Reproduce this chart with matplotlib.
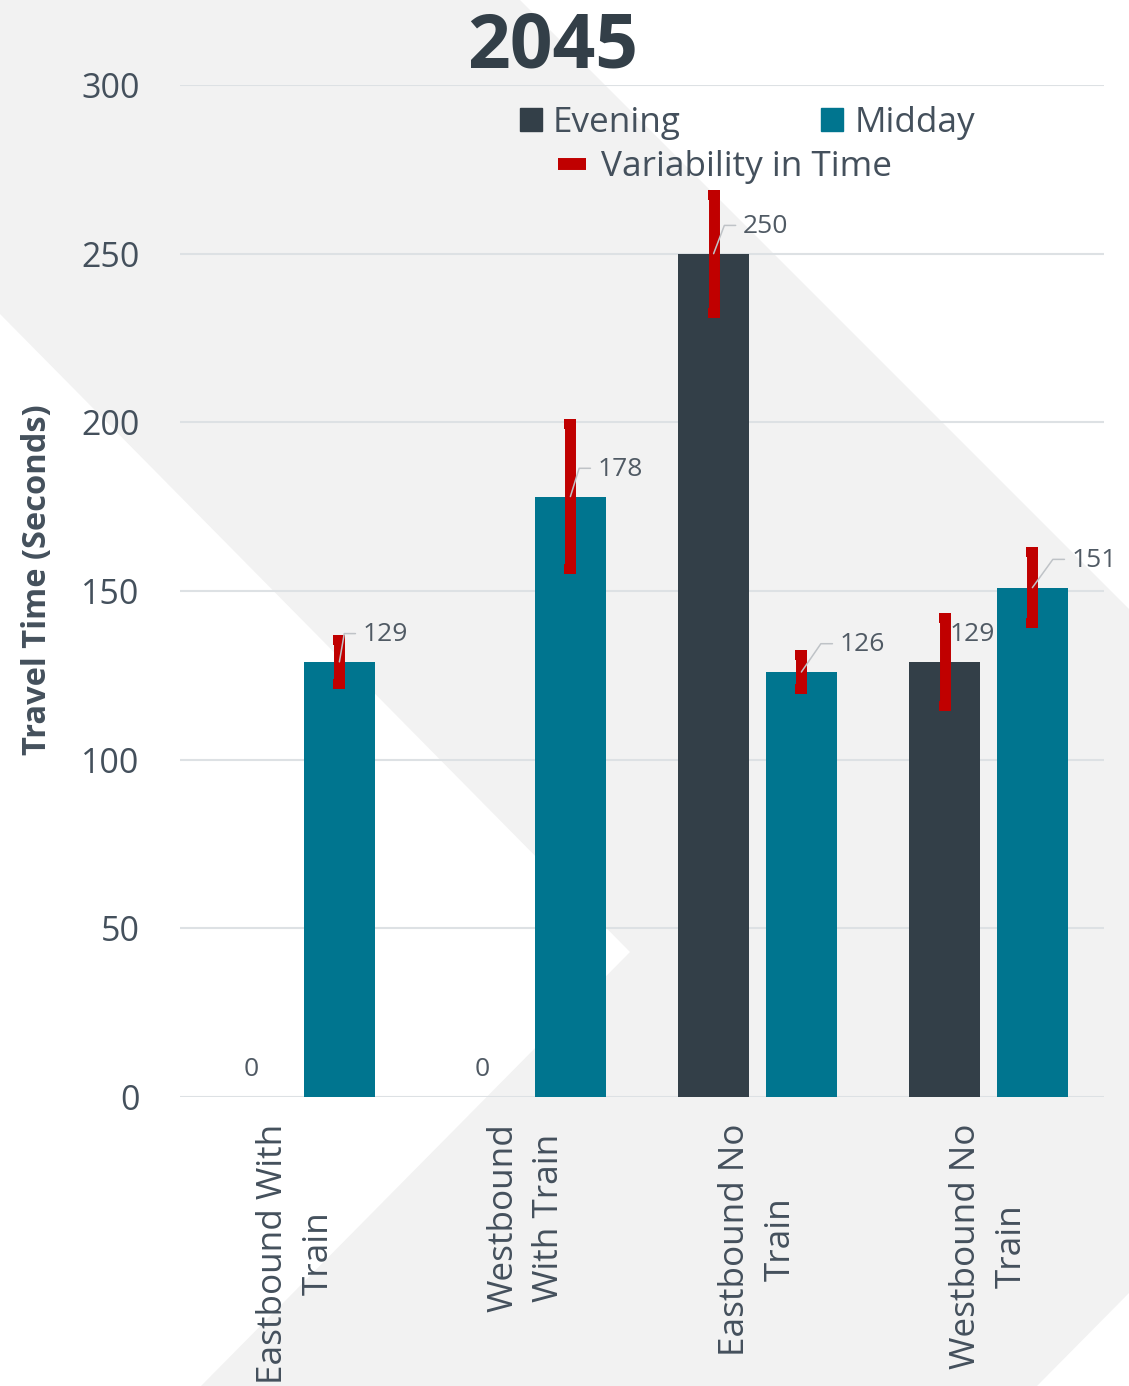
import numpy as np
import matplotlib
matplotlib.use('Agg')
import matplotlib.pyplot as plt
from matplotlib.patches import Polygon, Patch
from matplotlib.lines import Line2D

categories = ['Eastbound With\nTrain', 'Westbound\nWith Train', 'Eastbound No\nTrain', 'Westbound No\nTrain']
evening = [0, 0, 250, 129]
midday = [129, 178, 126, 151]
# +/- variability in seconds
evening_var = [0, 0, 17.5, 13]
midday_var = [6.5, 21.5, 5, 10.5]
yticks = [0, 50, 100, 150, 200, 250, 300]

dark = '#333F48'
teal = '#00758F'
red = '#C00000'
text_col = '#44505C'
lbl_col = '#505A64'
grid_col = '#DDE1E4'

plt.rcParams['font.family'] = ['Open Sans', 'DejaVu Sans']

W, H = 1129, 1386
fig = plt.figure(figsize=(W / 100, H / 100), dpi=100, facecolor='#F2F2F2')


def px(pts):
    return [(x / W, 1 - y / H) for x, y in pts]


# white diagonal cut-outs of the slide background
for shape in ([(520, 0), (1129, 0), (1129, 609)],
              [(0, 314), (630, 952), (201, 1386), (0, 1386)],
              [(1129, 1293), (1037, 1386), (1129, 1386)]):
    fig.add_artist(Polygon(px(shape), closed=True, transform=fig.transFigure,
                           facecolor='white', edgecolor='none', zorder=-1))

ax = fig.add_axes([180 / W, 1 - 1097 / H, 924 / W, 1012 / H])
ax.set_facecolor('none')

x = np.arange(len(categories))
off, bw = 0.19, 0.307
ax.bar(x - off, evening, bw, color=dark, zorder=2)
ax.bar(x + off, midday, bw, color=teal, zorder=2)

for xs, vals, errs in ((x - off, evening, evening_var), (x + off, midday, midday_var)):
    keep = [i for i, v in enumerate(vals) if v > 0]
    ax.errorbar(xs[keep], np.array(vals)[keep], yerr=np.array(errs)[keep], fmt='none',
                ecolor=red, elinewidth=7.9, capsize=4.6, capthick=7.2, zorder=4)

# data labels: x offset (pixels) from bar centre to text left edge
ev_dx = [None, None, 29, 5]
md_dx = [23, 27, 38, 39]


def label(xc, v, dx):
    if dx is None:
        ax.annotate(f'{v}', (xc, v), xytext=(0, 27), textcoords='offset pixels',
                    ha='center', va='center', fontsize=19, color=lbl_col, zorder=5)
        return
    kw = {}
    if dx > 15:
        ang = np.degrees(np.arctan2(29, dx - 18))
        kw['arrowprops'] = dict(arrowstyle='-', color='#BFC3C7', lw=1.1, shrinkA=3, shrinkB=0,
                                relpos=(0, 0.55),
                                connectionstyle=f'angle,angleA=0,angleB={ang:.1f},rad=0')
    ax.annotate(f'{v}', (xc, v), xytext=(dx, 27), textcoords='offset pixels',
                ha='left', va='center', fontsize=19, color=lbl_col, zorder=5, **kw)


for i in range(len(categories)):
    label(x[i] - off, evening[i], ev_dx[i])
    label(x[i] + off, midday[i], md_dx[i])

ax.set_xlim(-0.5, 3.5)
ax.set_ylim(0, 300)
ax.set_yticks(yticks)
ax.set_xticks(x)
ax.set_xticklabels(categories, rotation=90, fontsize=25.3, color=text_col, linespacing=1.45)
ax.tick_params(axis='y', length=0, pad=29, labelsize=24.5, labelcolor=text_col)
ax.tick_params(axis='x', length=0, pad=19)
for s in ax.spines.values():
    s.set_visible(False)
ax.grid(axis='y', color=grid_col, lw=1.5)
ax.set_axisbelow(True)

fig.text(552.5 / W, 1 - 68 / H, '2045', ha='center', va='baseline', fontsize=54,
         fontweight='bold', color=dark)
fig.text(38 / W, 1 - 580 / H, 'Travel Time (Seconds)', rotation=90, ha='center', va='center',
         fontsize=23.5, fontweight='bold', color=text_col)

h1 = [Patch(color=dark, label='Evening'), Patch(color=teal, label='Midday')]
fig.legend(handles=h1, loc='center', bbox_to_anchor=(747.5 / W, 1 - 123 / H), ncol=2,
           frameon=False, fontsize=25.3, handlelength=0.62, handleheight=0.62,
           handletextpad=0.32, columnspacing=4.0, labelcolor=text_col)
h2 = [Line2D([], [], color=red, lw=8.6, solid_capstyle='butt', label='Variability in Time')]
fig.legend(handles=h2, loc='center', bbox_to_anchor=(725 / W, 1 - 167 / H),
           frameon=False, fontsize=25.3, handlelength=0.8, handletextpad=0.45,
           labelcolor=text_col)

fig.savefig('out.png', dpi=100, facecolor=fig.get_facecolor())
